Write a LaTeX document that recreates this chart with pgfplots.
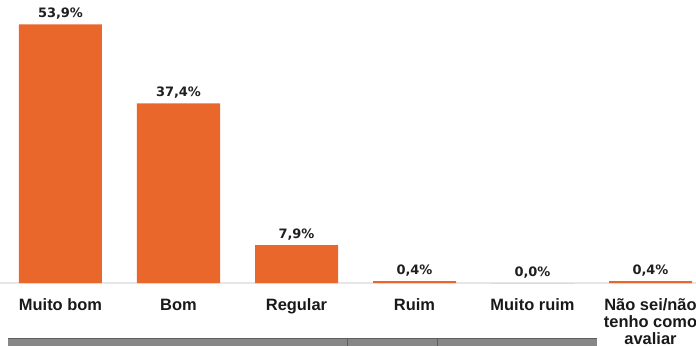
\documentclass[border=0pt]{standalone}
\usepackage{pgfplots}
\pgfplotsset{compat=1.18}
\usepackage{fontspec}
\setmainfont{Liberation Sans}
\newfontfamily\valfont{DejaVu Sans}
\definecolor{barorange}{HTML}{EA672C}
\definecolor{bandgray}{HTML}{878787}
\definecolor{banddark}{HTML}{5E5E5E}
\definecolor{baseline}{HTML}{E6E6E6}
\newcommand\st{\rule{0pt}{13bp}}
\begin{document}
\begin{tikzpicture}[x=1bp,y=1bp]
\begin{axis}[
  scale only axis, width=696bp, height=283bp,
  xmin=-0.5127, xmax=5.3856, ymin=0, ymax=58.96,
  axis x line*=bottom, axis y line=none,
  x axis line style={-, draw=baseline, line width=1.5bp},
  xtick={0,1,2,3,4,5}, major tick length=0pt,
  xticklabels={\st Muito bom, \st Bom, \st Regular, \st Ruim, \st Muito ruim, {\st Não sei/não\\tenho como\\avaliar}},
  xticklabel style={font=\bfseries\fontsize{16.5}{17}\selectfont, align=center, anchor=north, inner sep=0pt, yshift=-14bp, text=black!90},
  ybar, bar width=83bp, bar shift=0pt,
  clip=false,
  nodes near coords={\pgfmathprintnumber[fixed, fixed zerofill, precision=1, use comma, assume math mode=true]{\pgfplotspointmeta}\%},
  nodes near coords style={font=\valfont\bfseries\fontsize{13}{14}\selectfont, text=black!88, inner sep=0pt, anchor=base, yshift=7bp},
]
\addplot[fill=barorange, draw=none] coordinates {(0,53.9) (1,37.4) (2,7.9) (3,0.4) (4,0.0) (5,0.4)};
\coordinate (O) at (rel axis cs:0,0);
\end{axis}
\fill[bandgray] ([xshift=8bp,yshift=-63bp]O) rectangle ([xshift=597bp,yshift=-55bp]O);
\draw[banddark, line width=1.2bp] ([xshift=8bp,yshift=-55.4bp]O) -- ([xshift=597bp,yshift=-55.4bp]O);
\draw[banddark, line width=1bp] ([xshift=347bp,yshift=-63bp]O) -- ([xshift=347bp,yshift=-55bp]O);
\draw[banddark, line width=1bp] ([xshift=437bp,yshift=-63bp]O) -- ([xshift=437bp,yshift=-55bp]O);
\pgfresetboundingbox
\path[use as bounding box] ([yshift=-63bp]O) rectangle ([xshift=696bp,yshift=283bp]O);
\end{tikzpicture}
\end{document}
